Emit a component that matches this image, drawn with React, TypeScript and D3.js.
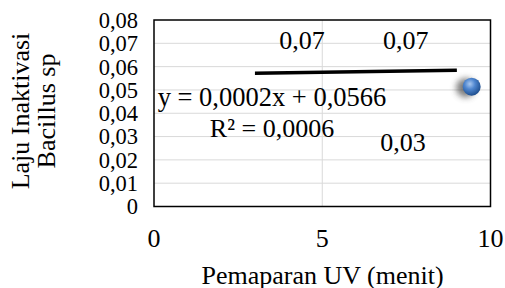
import React from "react";
import * as d3 from "d3";

const xTicks = [0, 5, 10];
const yTicks = [0, 0.01, 0.02, 0.03, 0.04, 0.05, 0.06, 0.07, 0.08];
const pointX = [9.44];
const pointY = [0.0514];
const trendSlope = 0.0002;
const trendIntercept = 0.0566;
const trendRange = [3, 9];
const labelTexts = ["0,07", "0,07", "0,03"];
const labelX = [4.4, 7.48, 7.4];
const labelY = [0.0675, 0.0675, 0.0239];
const equationText = "y = 0,0002x + 0,0566";
const r2Text = "R² = 0,0006";
const xTitle = "Pemaparan UV (menit)";
const yTitle = ["Laju Inaktivasi", "Bacillus sp"];

const W = 505;
const H = 288;
const FONT = "'Liberation Serif', 'Times New Roman', serif";

export default function App() {
  const x = d3.scaleLinear().domain([0, 10]).range([154, 490.5]);
  const y = d3.scaleLinear().domain([0, 0.08]).range([206.5, 20]);
  const fmt = (v: number) => (v === 0 ? "0" : d3.format(".2f")(v).replace(".", ","));
  const trendData = trendRange.map((v) => [v, trendSlope * v + trendIntercept] as [number, number]);
  const line = d3
    .line<[number, number]>()
    .x((d) => x(d[0]))
    .y((d) => y(d[1]));

  return (
    <svg
      width={W}
      height={H}
      style={{ position: "absolute", left: 0, top: 0, background: "#fff" }}
      fontFamily={FONT}
    >
      <defs>
        <radialGradient id="ball" cx="40%" cy="35%" r="65%">
          <stop offset="0%" stopColor="#a9c8f0" />
          <stop offset="45%" stopColor="#4f86cf" />
          <stop offset="100%" stopColor="#1f4f8f" />
        </radialGradient>
        <filter id="shadow" x="-100%" y="-100%" width="300%" height="300%">
          <feGaussianBlur stdDeviation="3" />
        </filter>
      </defs>
      {/* gridlines */}
      {yTicks.slice(1, -1).map((t) => (
        <line key={"gy" + t} x1={x(0)} x2={x(10)} y1={y(t)} y2={y(t)} stroke="#d9d9d9" strokeWidth={1} />
      ))}
      {xTicks.slice(1, -1).map((t) => (
        <line key={"gx" + t} x1={x(t)} x2={x(t)} y1={y(0)} y2={y(0.08)} stroke="#d9d9d9" strokeWidth={1} />
      ))}
      <rect x={x(0)} y={y(0.08)} width={x(10) - x(0)} height={y(0) - y(0.08)} fill="none" stroke="#000" strokeWidth={1.5} />
      {/* y ticks */}
      {yTicks.map((t) => (
        <text key={"ty" + t} x={138} y={y(t)} dy="0.35em" textAnchor="end" fontSize={22.5}>
          {fmt(t)}
        </text>
      ))}
      {/* x ticks */}
      {xTicks.map((t) => (
        <text key={"tx" + t} x={x(t)} y={247} textAnchor="middle" fontSize={26}>
          {t}
        </text>
      ))}
      {/* trendline */}
      <path d={line(trendData) || ""} stroke="#000" strokeWidth={3.5} fill="none" />
      {/* marker */}
      {pointX.map((px, i) => (
        <g key={"p" + i}>
          <circle cx={x(px) - 6} cy={y(pointY[i]) + 1} r={9.5} fill="#444" opacity={0.7} filter="url(#shadow)" />
          <circle cx={x(px)} cy={y(pointY[i])} r={9} fill="url(#ball)" />
        </g>
      ))}
      {/* data labels */}
      {labelTexts.map((t, i) => (
        <text key={"l" + i} x={x(labelX[i])} y={y(labelY[i])} textAnchor="middle" fontSize={26}>
          {t}
        </text>
      ))}
      <text x={272} y={106} textAnchor="middle" fontSize={26.5}>
        {equationText}
      </text>
      <text x={272} y={136.5} textAnchor="middle" fontSize={26}>
        {r2Text}
      </text>
      {/* axis titles */}
      <text x={322.5} y={283.5} textAnchor="middle" fontSize={26}>
        {xTitle}
      </text>
      <g transform="translate(0,111) rotate(-90)">
        <text x={0} y={29} textAnchor="middle" fontSize={26}>
          {yTitle[0]}
        </text>
        <text x={0} y={55} textAnchor="middle" fontSize={26}>
          {yTitle[1]}
        </text>
      </g>
    </svg>
  );
}
